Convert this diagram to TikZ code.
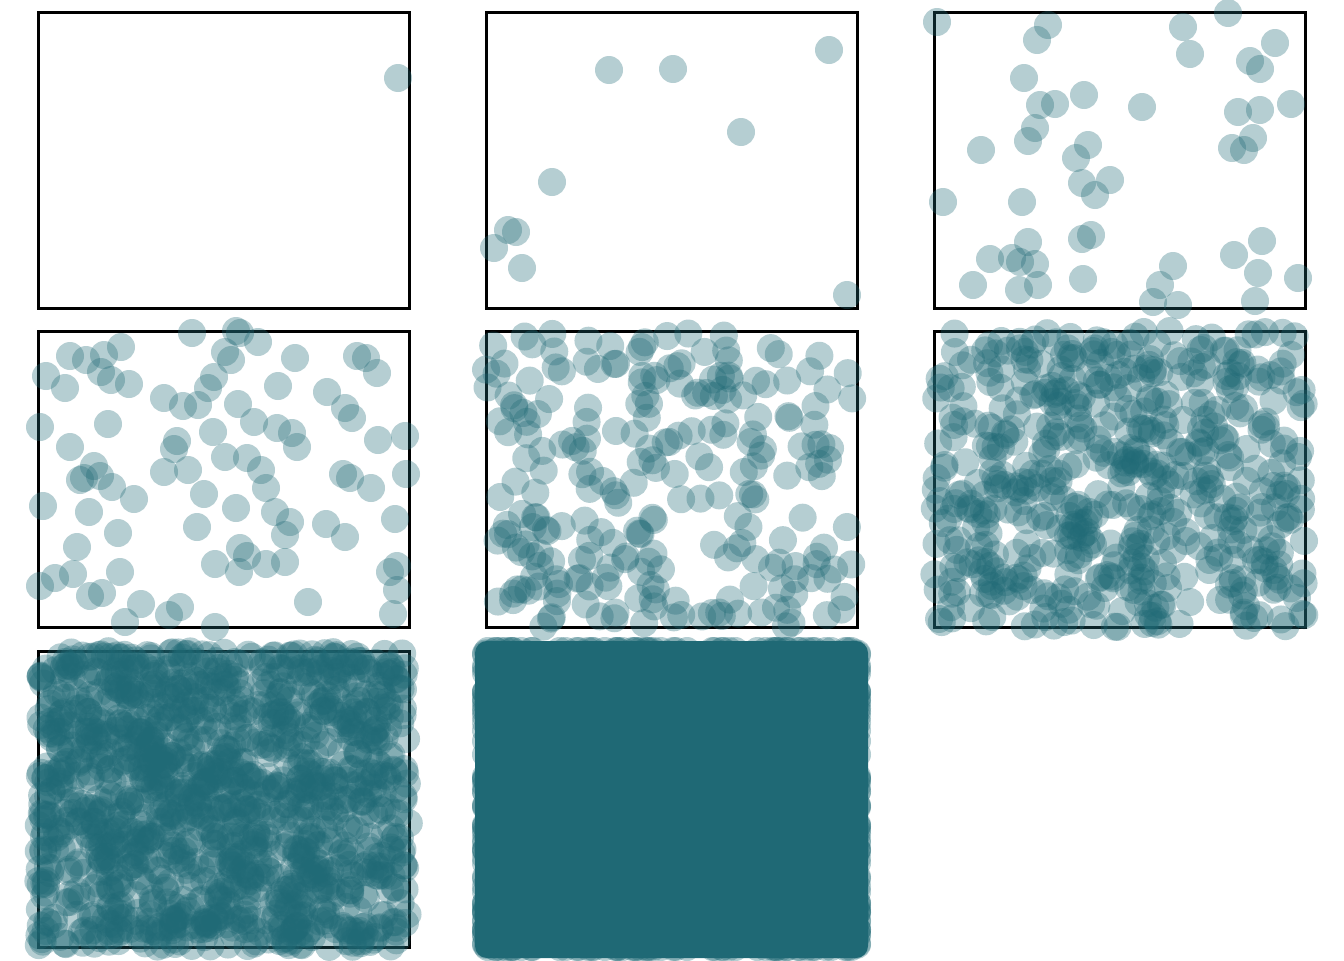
\documentclass[tikz,border=0pt]{standalone}
\definecolor{teal1}{RGB}{31,105,117}
\tikzset{
  frame/.style={draw=black, line width=2.25pt},
  dot/.style={fill=teal1, fill opacity=0.33},
  full/.style={fill=teal1},
}
\begin{document}
\begin{tikzpicture}[x=0.75pt,y=-0.75pt]
\useasboundingbox (0,0) rectangle (1344,960);
\pgfmathsetseed{7}
% panel 1
\draw[frame] (38,12) rectangle ++(371,296);
\foreach \p in {(398,78)} \fill[dot] \p circle[radius=10.5pt];
% panel 2
\draw[frame] (486,12) rectangle ++(371,296);
\foreach \p in {(609,70),(673,69),(829,50),(741,132),(552,182),(508,230),(516,232),(494,248),(522,268),(847,295)}
  \fill[dot] \p circle[radius=10.5pt];
% panel 3
\draw[frame] (934,12) rectangle ++(371,296);
\foreach \p in {(937,22),(1048,25),(1037,40),(1183,27),(1228,13),(1190,54),(1275,43),(1250,61),(1260,69),(1024,78),(1084,95),(1040,105),(1055,104),(1142,107),(1238,112),(1260,110),(1291,104),(1035,128),(1028,141),(1088,145),(1076,158),(1253,138),(1232,148),(1244,150),(981,150),(1082,183),(1110,180),(1095,195),(943,202),(1022,202),(1091,235),(1082,239),(1028,242),(990,259),(1012,258),(1020,262),(1035,264),(1234,255),(1262,241),(1173,266),(973,285),(1019,290),(1038,285),(1083,279),(1160,285),(1258,273),(1298,278),(1153,302),(1178,305),(1255,301)}
  \fill[dot] \p circle[radius=10.5pt];
% panel 4
\draw[frame] (38,331) rectangle ++(371,296);
\foreach \p in {(192,333),(236,331),(240,333),(121,347),(70,356),(86,360),(104,355),(225,352),(231,360),(258,342),(295,358),(357,356),(366,358),(377,373),(46,376),(65,388),(101,372),(111,380),(129,384),(214,377),(208,388),(278,386),(327,392),(164,398),(183,406),(198,405),(238,404),(345,408),(352,418),(40,427),(108,424),(213,432),(254,422),(277,428),(292,433),(297,447),(378,440),(405,436),(70,447),(177,441),(174,449),(225,457),(247,458),(164,472),(188,470),(94,466),(100,476),(80,480),(84,478),(261,470),(266,488),(343,474),(350,478),(406,474),(112,487),(134,499),(204,494),(371,488),(43,506),(89,512),(236,508),(275,512),(290,522),(326,524),(345,537),(395,519),(118,533),(197,527),(285,535),(77,547),(240,548),(247,556),(215,564),(239,572),(266,564),(285,562),(397,566),(390,572),(55,578),(40,586),(73,574),(120,572),(397,590),(90,596),(102,593),(141,604),(180,607),(215,627),(308,602),(393,614),(125,622),(169,615)}
  \fill[dot] \p circle[radius=10.5pt];
% panels 5-7 (random)
\foreach \n/\ox/\oy in {240/486/331, 560/934/331, 1300/38/651}{
  \draw[frame] (\ox,\oy) rectangle ++(371,296);
  \foreach \i in {1,...,\n}{
    \pgfmathsetmacro\px{\ox+371*rnd}
    \pgfmathsetmacro\py{\oy+296*rnd}
    \fill[dot] (\px,\py) circle[radius=10.5pt];
  }
}
% panel 8 (saturated)
\fill[full, rounded corners=9pt] (475,641) rectangle (868,958);
\foreach \i in {1,...,60}{
  \pgfmathsetmacro\px{486+371*rnd}
  \fill[dot] (\px,651) circle[radius=10.5pt];
  \fill[dot] (\px,947) circle[radius=10.5pt];
  \pgfmathsetmacro\py{651+296*rnd}
  \fill[dot] (486,\py) circle[radius=10.5pt];
  \fill[dot] (857,\py) circle[radius=10.5pt];
}
\end{tikzpicture}
\end{document}
